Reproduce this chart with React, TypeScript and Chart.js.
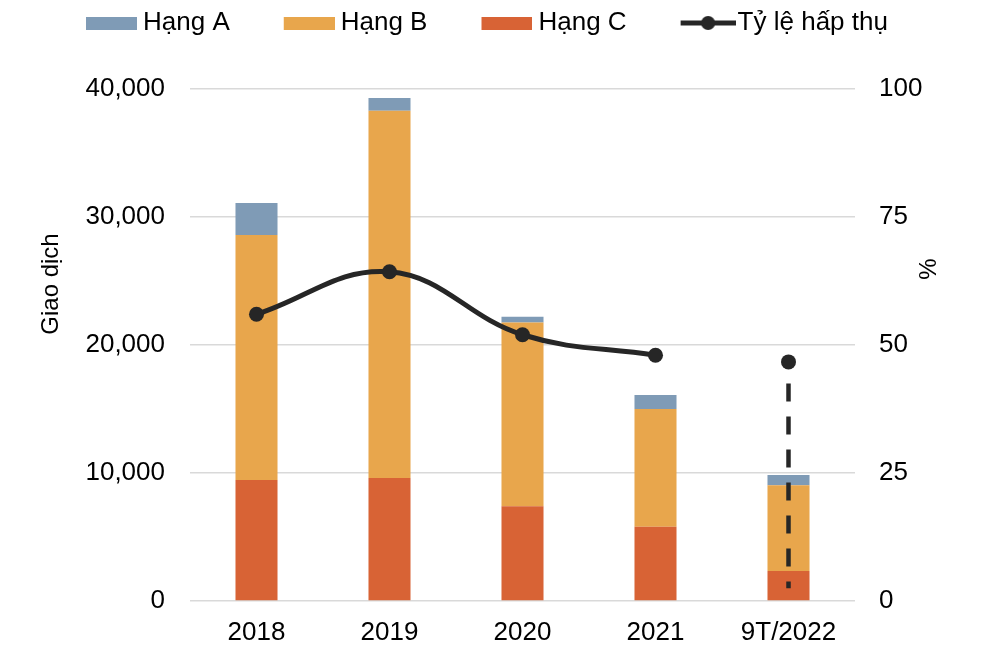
import { useEffect, useRef } from "react";
import { Chart, registerables } from "chart.js";

Chart.register(...registerables);

// ---- data ----
const categories = ["2018", "2019", "2020", "2021", "9T/2022"];
const hangA = [2500, 1000, 450, 1100, 800];
const hangB = [19150, 28700, 14350, 9200, 6700];
const hangC = [9450, 9600, 7400, 5800, 2350];
const absorptionRate = [56, 64.3, 52, 48, null];
const absorptionRate9T = [null, null, null, null, 46.7];
const projectionDash = [42.5, 2.5]; // dashed guide under the 9T/2022 point
const leftTicks = [0, 10000, 20000, 30000, 40000];
const rightTicks = [0, 25, 50, 75, 100];
const legendNames = ["Hạng A", "Hạng B", "Hạng C", "Tỷ lệ hấp thụ"];
const leftTitle = "Giao dịch";
const rightTitle = "%";

// ---- styles ----
const COLORS = {
  A: "#7F9BB6",
  B: "#E8A64C",
  C: "#D86335",
  line: "#262626",
  grid: "#D9D9D9",
  text: "#000000",
};
const FONT = '"Liberation Sans", Arial, sans-serif';

const LEG_W = 96; // pointStyleWidth
const LEG_PAD = 2;

function boxImage(color: string) {
  const c = document.createElement("canvas");
  const W = LEG_W + 14;
  c.width = W;
  c.height = 13;
  const ctx = c.getContext("2d")!;
  ctx.fillStyle = color;
  ctx.fillRect(W - 51, 0, 51, 13);
  return c;
}

function lineImage(color: string) {
  const c = document.createElement("canvas");
  const W = LEG_W + 22;
  c.width = W;
  c.height = 16;
  const ctx = c.getContext("2d")!;
  ctx.strokeStyle = color;
  ctx.lineWidth = 5;
  ctx.beginPath();
  ctx.moveTo(W - 55, 8);
  ctx.lineTo(W, 8);
  ctx.stroke();
  ctx.fillStyle = color;
  ctx.beginPath();
  ctx.arc(W - 27.5, 8, 7, 0, Math.PI * 2);
  ctx.fill();
  return c;
}

const axisTitlesPlugin = {
  id: "axisTitles",
  afterDraw(chart: any) {
    const { ctx, chartArea } = chart;
    ctx.save();
    ctx.fillStyle = COLORS.text;
    ctx.font = `24px ${FONT}`;
    ctx.textAlign = "center";
    ctx.textBaseline = "middle";
    ctx.translate(chartArea.left - 139, chartArea.top + 195);
    ctx.rotate(-Math.PI / 2);
    ctx.fillText(leftTitle, 0, 0);
    ctx.restore();

    ctx.save();
    ctx.fillStyle = COLORS.text;
    ctx.font = `24px ${FONT}`;
    ctx.textAlign = "center";
    ctx.textBaseline = "middle";
    ctx.translate(chartArea.right + 74, chartArea.top + 180);
    ctx.rotate(-Math.PI / 2);
    ctx.fillText(rightTitle, 0, 0);
    ctx.restore();
  },
};

export default function App() {
  const ref = useRef<HTMLCanvasElement>(null);

  useEffect(() => {
    const legendImages = [
      boxImage(COLORS.A),
      boxImage(COLORS.B),
      boxImage(COLORS.C),
      lineImage(COLORS.line),
    ];

    const chart = new Chart(ref.current!, {
      type: "bar",
      data: {
        labels: categories,
        datasets: [
          {
            type: "bar",
            label: legendNames[2],
            data: hangC,
            backgroundColor: COLORS.C,
            borderWidth: 0,
            order: 1,
            yAxisID: "y",
          },
          {
            type: "bar",
            label: legendNames[1],
            data: hangB,
            backgroundColor: COLORS.B,
            borderWidth: 0,
            order: 1,
            yAxisID: "y",
          },
          {
            type: "bar",
            label: legendNames[0],
            data: hangA,
            backgroundColor: COLORS.A,
            borderWidth: 0,
            order: 1,
            yAxisID: "y",
          },
          {
            type: "line",
            label: legendNames[3],
            data: absorptionRate,
            borderColor: COLORS.line,
            backgroundColor: COLORS.line,
            borderWidth: 5,
            pointRadius: 7.5,
            pointBackgroundColor: COLORS.line,
            pointBorderWidth: 0,
            tension: 0.4,
            spanGaps: false,
            order: 0,
            yAxisID: "y1",
          },
          {
            type: "line",
            label: "9T",
            data: absorptionRate9T,
            borderColor: COLORS.line,
            backgroundColor: COLORS.line,
            showLine: false,
            pointRadius: 7.5,
            pointBorderWidth: 0,
            order: 0,
            yAxisID: "y1",
          },
          {
            type: "line",
            label: "dash",
            data: projectionDash.map((v) => ({ x: categories[4], y: v })) as any,
            borderColor: COLORS.line,
            borderWidth: 4.5,
            borderDash: [18, 15],
            pointRadius: 0,
            tension: 0,
            order: 0,
            yAxisID: "y1",
          },
        ] as any,
      },
      options: {
        responsive: false,
        animation: false,
        events: [],
        layout: { padding: { left: 24, top: 0, right: 0, bottom: 0 } },
        datasets: {
          bar: { barPercentage: 0.316, categoryPercentage: 1 },
        },
        plugins: {
          tooltip: { enabled: false },
          legend: {
            position: "top",
            align: "start",
            labels: {
              usePointStyle: true,
              pointStyleWidth: LEG_W,
              boxHeight: 13,
              padding: LEG_PAD,
              color: COLORS.text,
              font: { family: FONT, size: 26 },
              generateLabels: () =>
                legendNames.map((name, i) => ({
                  text: name,
                  pointStyle: legendImages[i] as any,
                  fillStyle: "transparent",
                  strokeStyle: "transparent",
                  lineWidth: 0,
                  hidden: false,
                  datasetIndex: [2, 1, 0, 3][i],
                  fontColor: COLORS.text,
                })),
            },
          },
        },
        scales: {
          x: {
            type: "category",
            stacked: true,
            grid: { display: false, drawTicks: false },
            border: { display: false },
            ticks: {
              color: COLORS.text,
              font: { family: FONT, size: 26 },
              padding: 16,
              maxRotation: 0,
              autoSkip: false,
            },
            afterFit: (s: any) => {
              s.height = 47;
            },
          },
          xTop: {
            type: "category",
            position: "top",
            display: true,
            grid: { display: false, drawTicks: false },
            border: { display: false },
            ticks: { display: false },
            afterFit: (s: any) => {
              s.height = 43;
            },
          },
          y: {
            type: "linear",
            position: "left",
            stacked: true,
            min: 0,
            max: 40000,
            afterBuildTicks: (s: any) => {
              s.ticks = leftTicks.map((v) => ({ value: v }));
            },
            grid: {
              color: COLORS.grid,
              lineWidth: 1.5,
              drawTicks: false,
            },
            border: { display: false },
            ticks: {
              color: COLORS.text,
              font: { family: FONT, size: 26 },
              padding: 25,
              callback: (v: any) => Number(v).toLocaleString("en-US"),
            },
            afterFit: (s: any) => {
              s.width = 158;
            },
          },
          y1: {
            type: "linear",
            position: "right",
            min: 0,
            max: 100,
            afterBuildTicks: (s: any) => {
              s.ticks = rightTicks.map((v) => ({ value: v }));
            },
            grid: { display: false, drawTicks: false },
            border: { display: false },
            ticks: {
              color: COLORS.text,
              font: { family: FONT, size: 26 },
              padding: 24,
            },
            afterFit: (s: any) => {
              s.width = 137;
            },
          },
        },
      } as any,
      plugins: [axisTitlesPlugin],
    });

    return () => chart.destroy();
  }, []);

  return (
    <div style={{ width: 984, height: 640 }}>
      <canvas ref={ref} width={984} height={640} style={{ display: "block" }} />
    </div>
  );
}
